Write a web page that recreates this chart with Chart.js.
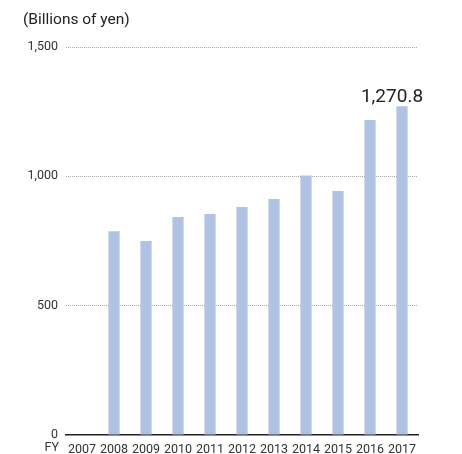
<!DOCTYPE html>
<html>
<head>
<meta charset="utf-8">
<script src="https://cdn.jsdelivr.net/npm/chart.js@4"></script>
<style>
  html, body { margin: 0; padding: 0; background: #fff; }
  #wrap { width: 462px; height: 454px; position: relative; }
</style>
</head>
<body>
<div id="wrap"><canvas id="myChart"></canvas></div>
<script>
const years = ['2007', '2008', '2009', '2010', '2011', '2012', '2013', '2014', '2015', '2016', '2017'];
const amounts = [null, 788, 750, 843, 854, 881, 912, 1003, 943, 1218, 1270.8];
const yTicks = [0, 500, 1000, 1500];
const unitLabel = '(Billions of yen)';
const highlightText = '1,270.8';

const FONT = 'Roboto, "DejaVu Sans", sans-serif';
const barColor = '#b1c3e4';

// title, FY marker and the value label on the last bar
const extras = {
    id: 'extras',
    afterDraw(chart) {
        const c = chart.ctx;
        const x = chart.scales.x;
        const y = chart.scales.y;
        c.save();
        c.fillStyle = '#222';
        c.font = '15.5px ' + FONT;
        c.textBaseline = 'middle';
        c.textAlign = 'left';
        c.fillText(unitLabel, 23, 20);

        c.font = '12.5px ' + FONT;
        c.textAlign = 'right';
        c.fillStyle = '#333';
        c.fillText('FY', 59, 448);

        const last = amounts.length - 1;
        const px = x.getPixelForValue(last);
        const py = y.getPixelForValue(amounts[last]);
        c.font = '19px ' + FONT;
        c.fillStyle = '#222';
        c.textAlign = 'center';
        c.textBaseline = 'alphabetic';
        c.fillText(highlightText, px - 10, py - 4);
        c.restore();
    }
};

const data = {
    labels: years,
    datasets: [{
        data: amounts,
        backgroundColor: barColor,
        barPercentage: 0.35,
        categoryPercentage: 1
    }]
};

const config = {
    type: 'bar',
    data: data,
    options: {
        responsive: true,
        maintainAspectRatio: false,
        animation: false,
        layout: { padding: { top: 47, right: 44, left: 0, bottom: 0 } },
        plugins: {
            legend: { display: false },
            tooltip: { enabled: false }
        },
        scales: {
            x: {
                afterFit(scale) { scale.height = 19; },
                grid: { display: false, drawTicks: false },
                border: { display: true, color: '#222', width: 1.5 },
                ticks: { color: '#333', font: { family: FONT, size: 12.5 }, padding: 7, maxRotation: 0, autoSkip: false }
            },
            y: {
                min: 0,
                max: 1500,
                afterFit(scale) { scale.width = 66; },
                afterBuildTicks(scale) { scale.ticks = yTicks.map(v => ({ value: v })); },
                grid: {
                    drawTicks: false,
                    color: c => c.tick && c.tick.value === 0 ? 'rgba(0,0,0,0)' : '#aaa',
                    lineWidth: 1
                },
                border: { display: false, dash: [1, 1] },
                ticks: {
                    color: '#333',
                    font: { family: FONT, size: 12.5 },
                    padding: 8,
                    callback: v => v.toLocaleString('en-US')
                }
            }
        }
    },
    plugins: [extras]
};

let myChart = new Chart(document.getElementById('myChart'), config);
</script>
</body>
</html>
